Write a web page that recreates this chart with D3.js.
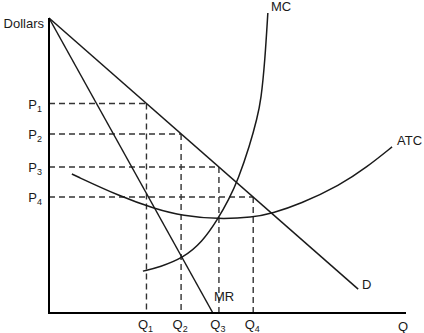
<!DOCTYPE html>
<html>
<head>
<meta charset="utf-8">
<script src="https://cdn.jsdelivr.net/npm/d3@7"></script>
<style>
  html, body { margin: 0; padding: 0; background: #fff; }
  svg { display: block; font-family: "Liberation Sans", Arial, Helvetica, sans-serif; }
</style>
</head>
<body>
<svg id="chart" width="424" height="333"></svg>
<script>
// quantities / prices where the dashed guides meet demand
const qLabels = ["1", "2", "3", "4"];
const qValues = [27.3, 37.0, 47.6, 57.2];
const pValues = [71.0, 60.7, 49.5, 39.3];

// straight lines (start, end)
const demand = [[0, 100], [86.6, 8.1]];
const marginalRevenue = [[0, 100], [45.9, 0]];

// cost curves
const marginalCost = [
  [26.3, 14.2], [31.1, 15.6], [37.5, 18.6], [42.9, 24.0], [47.3, 31.8],
  [50.4, 38.6], [52.9, 45.0], [56.3, 57.0], [58.3, 66.1], [59.4, 72.2],
  [60.5, 85.8], [61.3, 101.7]
];
const averageTotalCost = [
  [6.4, 47.1], [19.9, 39.5], [29.7, 35.3], [37.5, 32.9], [47.3, 31.8],
  [57.1, 32.4], [62.5, 33.8], [70.3, 36.9], [81.5, 43.3], [89.1, 49.5],
  [96.1, 56.3]
];

const svg = d3.select("#chart");
const x = d3.scaleLinear().domain([0, 100]).range([49, 406]);
const y = d3.scaleLinear().domain([0, 100]).range([313, 18]);

const ink = "#1a1a1a";
const line = d3.line().x(d => x(d[0])).y(d => y(d[1]));

// dashed guides
const guides = svg.append("g")
  .attr("stroke", "#333")
  .attr("stroke-width", 1.4)
  .attr("stroke-dasharray", "6,4")
  .attr("fill", "none");

qValues.forEach((q, i) => {
  guides.append("line")
    .attr("x1", x(0)).attr("y1", y(pValues[i]))
    .attr("x2", x(q)).attr("y2", y(pValues[i]));
  guides.append("line")
    .attr("x1", x(q)).attr("y1", y(pValues[i]))
    .attr("x2", x(q)).attr("y2", y(0));
});

// curves
const curves = svg.append("g").attr("fill", "none").attr("stroke", ink).attr("stroke-width", 1.5);
curves.append("path").attr("d", line(demand));
curves.append("path").attr("d", line(marginalRevenue));
curves.append("path").attr("d", line.curve(d3.curveBasis)(marginalCost));
curves.append("path").attr("d", line.curve(d3.curveBasis)(averageTotalCost));

// axes
svg.append("path")
  .attr("d", `M${x(0)},${y(100)}V${y(0)}H${x(100)}`)
  .attr("fill", "none")
  .attr("stroke", "#000")
  .attr("stroke-width", 2);

// text
const text = svg.append("g").attr("fill", ink).attr("font-size", 13);

text.append("text").attr("x", 44).attr("y", 28).attr("text-anchor", "end").text("Dollars");
text.append("text").attr("x", 408).attr("y", 331).attr("text-anchor", "end").text("Q");

function subLabel(tx, ty, main, sub, anchor) {
  const t = text.append("text").attr("x", tx).attr("y", ty).attr("text-anchor", anchor);
  t.append("tspan").text(main);
  t.append("tspan").attr("font-size", 9).attr("dy", 3).text(sub);
}

pValues.forEach((p, i) => subLabel(42, y(p) + 5, "P", qLabels[i], "end"));
qValues.forEach((q, i) => subLabel(x(q) - 1, 329, "Q", qLabels[i], "middle"));

text.append("text").attr("x", 271).attr("y", 11).text("MC");
text.append("text").attr("x", 214).attr("y", 301).text("MR");
text.append("text").attr("x", 362).attr("y", 289).text("D");
text.append("text").attr("x", 397).attr("y", 145).text("ATC");
</script>
</body>
</html>
